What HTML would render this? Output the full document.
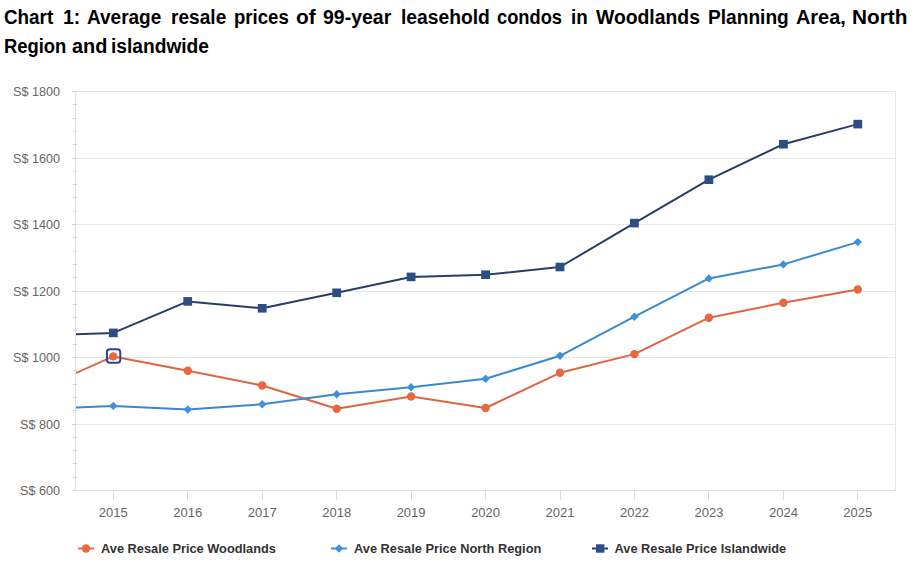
<!DOCTYPE html>
<html><head><meta charset="utf-8">
<style>
html,body{margin:0;padding:0;background:#fff;}
body{width:924px;height:562px;position:relative;overflow:hidden;font-family:"Liberation Sans",sans-serif;}
.w{position:absolute;font-weight:bold;font-size:20px;color:#000;white-space:nowrap;line-height:30px;transform-origin:0 0;}
svg{position:absolute;left:0;top:0;font-family:"Liberation Sans",sans-serif;}
</style></head><body>
<div class="w" style="left:3.86px;top:1.8px;transform:scaleX(0.9412)">Chart</div><div class="w" style="left:62.73px;top:1.8px;transform:scaleX(0.9667)">1:</div><div class="w" style="left:87.25px;top:1.8px;transform:scaleX(0.9494)">Average</div><div class="w" style="left:170.94px;top:1.8px;transform:scaleX(0.9554)">resale</div><div class="w" style="left:233.87px;top:1.8px;transform:scaleX(0.9298)">prices</div><div class="w" style="left:295.66px;top:1.8px;transform:scaleX(1.0444)">of</div><div class="w" style="left:322.83px;top:1.8px;transform:scaleX(0.9739)">99-year</div><div class="w" style="left:400.74px;top:1.8px;transform:scaleX(0.9633)">leasehold</div><div class="w" style="left:497.39px;top:1.8px;transform:scaleX(0.9145)">condos</div><div class="w" style="left:571.16px;top:1.8px;transform:scaleX(0.9375)">in</div><div class="w" style="left:596.00px;top:1.8px;transform:scaleX(0.9673)">Woodlands</div><div class="w" style="left:708.14px;top:1.8px;transform:scaleX(0.9561)">Planning</div><div class="w" style="left:795.61px;top:1.8px;transform:scaleX(0.9937)">Area,</div><div class="w" style="left:851.66px;top:1.8px;transform:scaleX(1.0392)">North</div><div class="w" style="left:4.48px;top:30.8px;transform:scaleX(0.9197)">Region</div><div class="w" style="left:71.61px;top:30.8px;transform:scaleX(0.9939)">and</div><div class="w" style="left:111.34px;top:30.8px;transform:scaleX(0.9584)">islandwide</div>
<svg width="924" height="562" viewBox="0 0 924 562">
<defs><clipPath id="pc"><rect x="76" y="60" width="820" height="440"/></clipPath></defs>
<g stroke="#e6e6e6" stroke-width="1" fill="none"><path d="M76 91.5H896M76 158.5H896M76 224.5H896M76 291.5H896M76 357.5H896M76 424.5H896"/><path d="M895.5 91V490"/></g>
<g stroke="#cdcdd2" stroke-width="1" fill="none"><path d="M72 91.5H77M73 104.5H77M73 118.5H77M73 131.5H77M73 144.5H77M72 158.5H77M73 171.5H77M73 184.5H77M73 197.5H77M73 211.5H77M72 224.5H77M73 237.5H77M73 251.5H77M73 264.5H77M73 277.5H77M72 291.5H77M73 304.5H77M73 317.5H77M73 330.5H77M73 344.5H77M72 357.5H77M73 370.5H77M73 384.5H77M73 397.5H77M73 410.5H77M72 424.5H77M73 437.5H77M73 450.5H77M73 463.5H77M73 477.5H77M72 490.5H77"/></g>
<g stroke="#d9dbe3" stroke-width="1" fill="none"><path d="M113.5 490V500M187.5 490V500M262.5 490V500M336.5 490V500M411.5 490V500M485.5 490V500M560.5 490V500M634.5 490V500M708.5 490V500M783.5 490V500M857.5 490V500"/></g>
<g stroke="#dfe1e7" stroke-width="1" fill="none"><path d="M75.5 91V490.5M75 490.5H896"/></g>
<g fill="#666" font-size="12.6" text-anchor="end"><text x="60" y="96.3">S$ 1800</text><text x="60" y="162.8">S$ 1600</text><text x="60" y="229.3">S$ 1400</text><text x="60" y="295.8">S$ 1200</text><text x="60" y="362.3">S$ 1000</text><text x="60" y="428.8">S$ 800</text><text x="60" y="495.3">S$ 600</text></g>
<g fill="#666" font-size="13" text-anchor="middle"><text x="113.3" y="517">2015</text><text x="187.8" y="517">2016</text><text x="262.2" y="517">2017</text><text x="336.7" y="517">2018</text><text x="411.1" y="517">2019</text><text x="485.6" y="517">2020</text><text x="560.0" y="517">2021</text><text x="634.4" y="517">2022</text><text x="708.9" y="517">2023</text><text x="783.4" y="517">2024</text><text x="857.8" y="517">2025</text></g>
<g clip-path="url(#pc)" fill="none" stroke-width="2" stroke-linejoin="round" stroke-linecap="round"><path stroke="#df653e" d="M38.8 389.6L113.3 356.4L187.8 370.8L262.2 385.5L336.7 408.7L411.1 396.5L485.6 408.0L560.0 372.8L634.4 354.1L708.9 317.7L783.4 302.8L857.8 289.5"/><path stroke="#3a89cf" d="M38.8 409.1L113.3 405.9L187.8 409.5L262.2 404.2L336.7 394.3L411.1 387.2L485.6 378.8L560.0 355.8L634.4 316.7L708.9 278.4L783.4 264.4L857.8 242.1"/><path stroke="#273f68" d="M38.8 335.7L113.3 332.9L187.8 301.4L262.2 308.3L336.7 292.8L411.1 276.9L485.6 274.7L560.0 267.0L634.4 223.1L708.9 179.7L783.4 144.2L857.8 124.1"/></g>
<g><circle cx="113.3" cy="356.4" r="4.2" fill="#e8673e"/><circle cx="187.8" cy="370.8" r="4.2" fill="#e8673e"/><circle cx="262.2" cy="385.5" r="4.2" fill="#e8673e"/><circle cx="336.7" cy="408.7" r="4.2" fill="#e8673e"/><circle cx="411.1" cy="396.5" r="4.2" fill="#e8673e"/><circle cx="485.6" cy="408.0" r="4.2" fill="#e8673e"/><circle cx="560.0" cy="372.8" r="4.2" fill="#e8673e"/><circle cx="634.4" cy="354.1" r="4.2" fill="#e8673e"/><circle cx="708.9" cy="317.7" r="4.2" fill="#e8673e"/><circle cx="783.4" cy="302.8" r="4.2" fill="#e8673e"/><circle cx="857.8" cy="289.5" r="4.2" fill="#e8673e"/><path d="M113.3 401.7L117.5 405.9L113.3 410.1L109.1 405.9Z" fill="#3d91da"/><path d="M187.8 405.3L191.9 409.5L187.8 413.7L183.6 409.5Z" fill="#3d91da"/><path d="M262.2 400.0L266.4 404.2L262.2 408.4L258.0 404.2Z" fill="#3d91da"/><path d="M336.7 390.1L340.9 394.3L336.7 398.5L332.5 394.3Z" fill="#3d91da"/><path d="M411.1 383.0L415.3 387.2L411.1 391.4L406.9 387.2Z" fill="#3d91da"/><path d="M485.6 374.6L489.8 378.8L485.6 383.0L481.4 378.8Z" fill="#3d91da"/><path d="M560.0 351.6L564.2 355.8L560.0 360.0L555.8 355.8Z" fill="#3d91da"/><path d="M634.4 312.5L638.6 316.7L634.4 320.9L630.2 316.7Z" fill="#3d91da"/><path d="M708.9 274.2L713.1 278.4L708.9 282.6L704.7 278.4Z" fill="#3d91da"/><path d="M783.4 260.2L787.6 264.4L783.4 268.6L779.1 264.4Z" fill="#3d91da"/><path d="M857.8 237.9L862.0 242.1L857.8 246.3L853.6 242.1Z" fill="#3d91da"/><rect x="108.9" y="328.6" width="8.8" height="8.6" fill="#2c4e85"/><rect x="183.3" y="297.1" width="8.8" height="8.6" fill="#2c4e85"/><rect x="257.8" y="304.0" width="8.8" height="8.6" fill="#2c4e85"/><rect x="332.3" y="288.5" width="8.8" height="8.6" fill="#2c4e85"/><rect x="406.7" y="272.6" width="8.8" height="8.6" fill="#2c4e85"/><rect x="481.2" y="270.4" width="8.8" height="8.6" fill="#2c4e85"/><rect x="555.6" y="262.7" width="8.8" height="8.6" fill="#2c4e85"/><rect x="630.0" y="218.8" width="8.8" height="8.6" fill="#2c4e85"/><rect x="704.5" y="175.4" width="8.8" height="8.6" fill="#2c4e85"/><rect x="779.0" y="139.9" width="8.8" height="8.6" fill="#2c4e85"/><rect x="853.4" y="119.8" width="8.8" height="8.6" fill="#2c4e85"/></g>
<rect x="106.9" y="349.3" width="13.4" height="13.4" rx="3" fill="none" stroke="#2a4693" stroke-width="2"/>
<path d="M78 548.5H94" stroke="#e8673e" stroke-width="2"/><circle cx="86" cy="548.5" r="4.2" fill="#e8673e"/><path d="M331 548.5H347" stroke="#3d91da" stroke-width="2"/><path d="M339 544.3L343.2 548.5L339 552.7L334.8 548.5Z" fill="#3d91da"/><path d="M592 548.5H608" stroke="#273f68" stroke-width="2"/><rect x="596" y="544.3" width="8.4" height="8.4" fill="#2c4e85"/><g font-weight="bold" font-size="12.8" fill="#333"><text x="101" y="553">Ave Resale Price Woodlands</text><text x="354" y="553">Ave Resale Price North Region</text><text x="614.5" y="553">Ave Resale Price Islandwide</text></g>
</svg>
</body></html>
